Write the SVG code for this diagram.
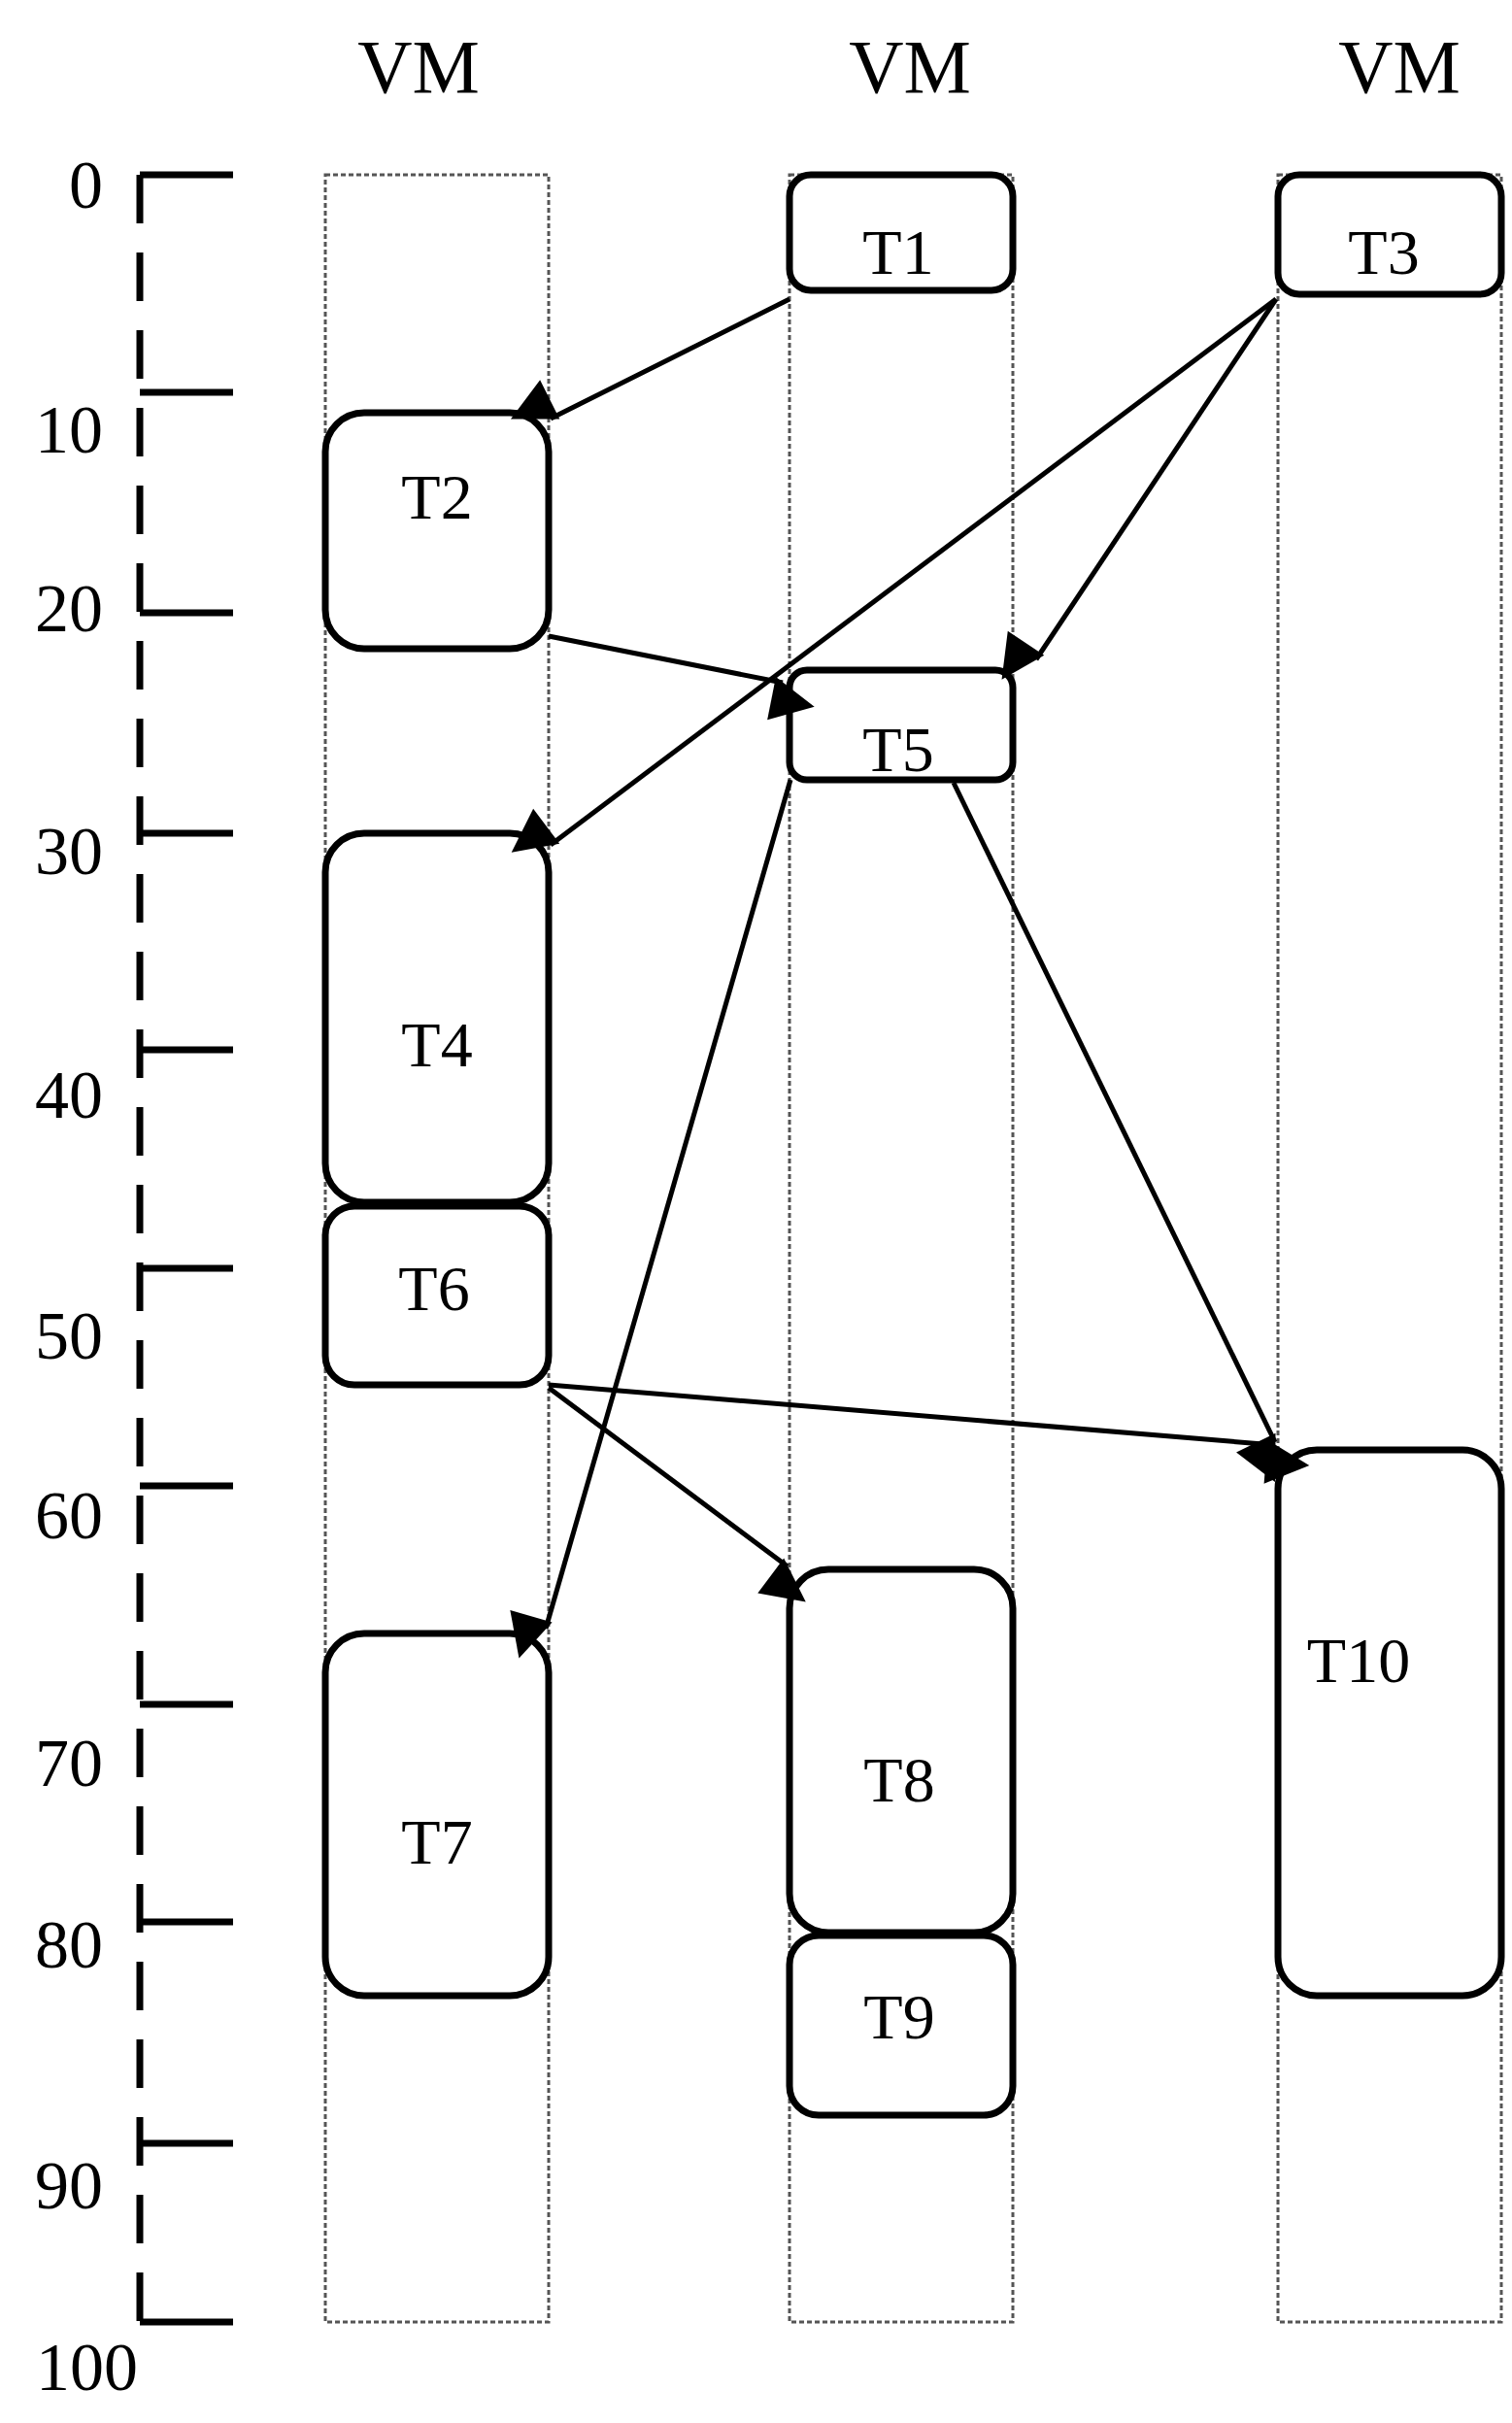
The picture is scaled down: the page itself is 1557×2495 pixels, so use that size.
<svg xmlns="http://www.w3.org/2000/svg" width="1557" height="2495" viewBox="0 0 1557 2495">
<style>
text{font-family:"Liberation Serif","DejaVu Serif",serif;fill:#000;text-anchor:middle}
.vm{font-size:78px}
.ax{font-size:70px;text-anchor:end}
.t{font-size:66px}
.col{fill:none;stroke:#555;stroke-width:3;stroke-dasharray:5,3}
.node{fill:#fff;stroke:#000;stroke-width:7}
.tick{stroke:#000;stroke-width:7}
.c{stroke:#000;stroke-width:5;fill:none;marker-end:url(#ah)}
</style>
<defs>
<marker id="ah" viewBox="0 0 10 10" refX="9" refY="5" markerWidth="9" markerHeight="9" markerUnits="userSpaceOnUse" orient="auto" style="overflow:visible">
<path d="M0,0 L10,5 L0,10 z" transform="scale(5)" fill="#000"/>
</marker>
</defs>
<rect width="1557" height="2495" fill="#fff"/>
<g id="headers">
<text class="vm" x="431" y="95">VM</text>
<text class="vm" x="937" y="95">VM</text>
<text class="vm" x="1441" y="95">VM</text>
</g>
<g id="axis">
<line x1="144" y1="180" x2="144" y2="2391" stroke="#000" stroke-width="7" stroke-dasharray="50,30"/>
<line class="tick" x1="144" y1="180" x2="240" y2="180"/>
<line class="tick" x1="144" y1="404" x2="240" y2="404"/>
<line class="tick" x1="144" y1="631" x2="240" y2="631"/>
<line class="tick" x1="144" y1="858" x2="240" y2="858"/>
<line class="tick" x1="144" y1="1081" x2="240" y2="1081"/>
<line class="tick" x1="144" y1="1306" x2="240" y2="1306"/>
<line class="tick" x1="144" y1="1530" x2="240" y2="1530"/>
<line class="tick" x1="144" y1="1755" x2="240" y2="1755"/>
<line class="tick" x1="144" y1="1979" x2="240" y2="1979"/>
<line class="tick" x1="144" y1="2207" x2="240" y2="2207"/>
<line class="tick" x1="144" y1="2391" x2="240" y2="2391"/>
<text class="ax" x="106" y="214">0</text>
<text class="ax" x="106" y="466">10</text>
<text class="ax" x="106" y="650">20</text>
<text class="ax" x="106" y="900">30</text>
<text class="ax" x="106" y="1151">40</text>
<text class="ax" x="106" y="1399">50</text>
<text class="ax" x="106" y="1584">60</text>
<text class="ax" x="106" y="1839">70</text>
<text class="ax" x="106" y="2026">80</text>
<text class="ax" x="106" y="2274">90</text>
<text class="ax" x="142" y="2461">100</text>
</g>
<g id="columns">
<rect class="col" x="335" y="180" width="230" height="2211"/>
<rect class="col" x="813" y="180" width="230" height="2211"/>
<rect class="col" x="1316" y="180" width="230" height="2211"/>
</g>
<g id="T1"><rect class="node" x="813" y="180" width="230" height="119" rx="22"/><text class="t" x="925" y="282">T1</text></g>
<g id="T3"><rect class="node" x="1316" y="180" width="230" height="123" rx="22"/><text class="t" x="1425" y="282">T3</text></g>
<g id="T2"><rect class="node" x="335" y="425" width="230" height="243" rx="40"/><text class="t" x="450" y="534">T2</text></g>
<g id="T5"><rect class="node" x="813" y="690" width="230" height="113" rx="18"/><text class="t" x="925" y="794">T5</text></g>
<g id="T4"><rect class="node" x="335" y="858" width="230" height="380" rx="40"/><text class="t" x="450" y="1098">T4</text></g>
<g id="T6"><rect class="node" x="335" y="1242" width="230" height="184" rx="30"/><text class="t" x="447" y="1349">T6</text></g>
<g id="T7"><rect class="node" x="335" y="1682" width="230" height="373" rx="40"/><text class="t" x="450" y="1919">T7</text></g>
<g id="T8"><rect class="node" x="813" y="1616" width="230" height="374" rx="40"/><text class="t" x="926" y="1855">T8</text></g>
<g id="T9"><rect class="node" x="813" y="1993" width="230" height="185" rx="30"/><text class="t" x="926" y="2099">T9</text></g>
<g id="T10"><rect class="node" x="1316" y="1493" width="230" height="562" rx="40"/><text class="t" x="1399" y="1732">T10</text></g>
<g id="connectors">
<line class="c" x1="813" y1="308" x2="567" y2="431"/>
<line class="c" x1="1314" y1="308" x2="1067" y2="679"/>
<line class="c" x1="1314" y1="308" x2="567" y2="870"/>
<line class="c" x1="565" y1="655" x2="806" y2="703" stroke-width="3"/>
<line class="c" x1="814" y1="803" x2="562" y2="1677"/>
<line class="c" x1="982" y1="806" x2="1313" y2="1485"/>
<line class="c" x1="565" y1="1426" x2="1313" y2="1488"/>
<line class="c" x1="565" y1="1429" x2="811" y2="1613"/>
</g>
</svg>
